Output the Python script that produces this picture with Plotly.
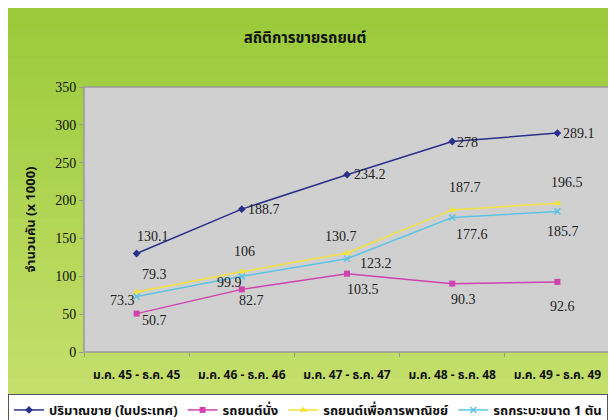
import plotly.graph_objects as go

categories = ["ม.ค. 45 - ธ.ค. 45", "ม.ค. 46 - ธ.ค. 46", "ม.ค. 47 - ธ.ค. 47",
              "ม.ค. 48 - ธ.ค. 48", "ม.ค. 49 - ธ.ค. 49"]
total_sales = [130.1, 188.7, 234.2, 278, 289.1]
passenger = [50.7, 82.7, 103.5, 90.3, 92.6]
commercial = [79.3, 106, 130.7, 187.7, 196.5]
pickup_1ton = [73.3, 99.9, 123.2, 177.6, 185.7]
series_names = ["ปริมาณขาย (ในประเทศ)", "รถยนต์นั่ง", "รถยนต์เพื่อการพาณิชย์", "รถกระบะขนาด 1 ตัน"]
y_ticks = [0, 50, 100, 150, 200, 250, 300, 350]

# label pixel offsets (style only)
off_total = [(16, 17), (22, 0), (23, 0), (15, -1), (22, 0)]
off_pass = [(18, -7), (10, -11), (16, -16), (11, -16), (5, -25)]
off_comm = [(18, 17), (3, 20), (-6, 17), (13, 22), (10, 21)]
off_pick = [(-14, -4), (-12, -6), (29, -5), (20, -17), (6, -20)]

W, H = 616, 420
L, R, T, B = 76, 14, 79, 76

THAI = "Tahoma, 'Noto Sans Thai', 'Noto Sans', sans-serif"
SERIF = "'Liberation Serif', 'Times New Roman', serif"

fig = go.Figure()

styles = [
    dict(color="#2B2F8C", symbol="diamond", size=6),
    dict(color="#D042B0", symbol="square", size=6),
    dict(color="#F2E23A", symbol="triangle-up", size=7),
    dict(color="#5EC3E6", symbol="x-thin", size=6),
]
all_vals = [total_sales, passenger, commercial, pickup_1ton]
all_offs = [off_total, off_pass, off_comm, off_pick]

annotations = []
for name, vals, st, offs in zip(series_names, all_vals, styles, all_offs):
    mk = dict(symbol=st["symbol"], size=st["size"], color=st["color"])
    if st["symbol"] == "x-thin":
        mk["line"] = dict(color=st["color"], width=1.5)
    fig.add_trace(go.Scatter(x=categories, y=vals, name=name, mode="lines+markers",
                             line=dict(color=st["color"], width=1.5), marker=mk))
    for c, v, (dx, dy) in zip(categories, vals, offs):
        annotations.append(dict(x=c, y=v, xref="x", yref="y", text=f"{v:g}", showarrow=False,
                                xshift=dx, yshift=dy,
                                font=dict(family=SERIF, size=14, color="#222")))

# gradient background strips over the whole paper (paper coords relative to plot area)
pw, ph = W - L - R, H - T - B
def px_x(px):
    return (px - L) / pw
def px_y(py):
    return (H - B - py) / ph

shapes = []
n = 42
c0 = (154, 202, 58)
c1 = (200, 225, 112)
for i in range(n):
    y0 = H * i / n
    y1 = H * (i + 1) / n + 0.6
    f = i / (n - 1)
    col = tuple(round(a + (b - a) * f) for a, b in zip(c0, c1))
    shapes.append(dict(type="rect", xref="paper", yref="paper", layer="below",
                       x0=px_x(-2), x1=px_x(W + 2), y0=px_y(y1), y1=px_y(y0),
                       fillcolor=f"rgb{col}", line=dict(width=0)))
shapes.append(dict(type="rect", xref="paper", yref="paper", layer="below",
                   x0=0, x1=1, y0=0, y1=1, fillcolor="#D0D0D0",
                   line=dict(color="#9A9A9A", width=1.5)))

fig.update_layout(
    width=W, height=H,
    margin=dict(l=L, r=R, t=T, b=B, autoexpand=False),
    paper_bgcolor="#B0D458", plot_bgcolor="rgba(0,0,0,0)",
    shapes=shapes, annotations=annotations,
    title=dict(text="<b>สถิติการขายรถยนต์</b>", x=297 / W, xanchor="center", y=1 - 30 / H, yanchor="middle",
               font=dict(family=THAI, size=15, color="#111")),
    xaxis=dict(type="category", showgrid=False, zeroline=False, showline=False,
               ticks="outside", tickson="boundaries", ticklen=4, tickcolor="#999",
               tickfont=dict(family=THAI, size=12, color="#111", weight="bold"),
               ticklabelstandoff=14, range=[-0.5, 4.5]),
    yaxis=dict(range=[0, 350], tickvals=y_ticks, showgrid=False, zeroline=False, showline=False,
               ticks="outside", ticklen=4, tickcolor="#999",
               tickfont=dict(family=SERIF, size=14, color="#111"),
               title=dict(text="จำนวนคัน (x 1000)", standoff=16,
                          font=dict(family=THAI, size=13, color="#111", weight="bold"))),
    showlegend=True,
    legend=dict(orientation="h", x=px_x(0), xanchor="left", y=px_y(386), yanchor="top",
                bgcolor="white", bordercolor="#555", borderwidth=1,
                font=dict(family=THAI, size=13, color="#111", weight="bold"),
                itemwidth=30, tracegroupgap=0),
)

fig.write_html("out.html")
